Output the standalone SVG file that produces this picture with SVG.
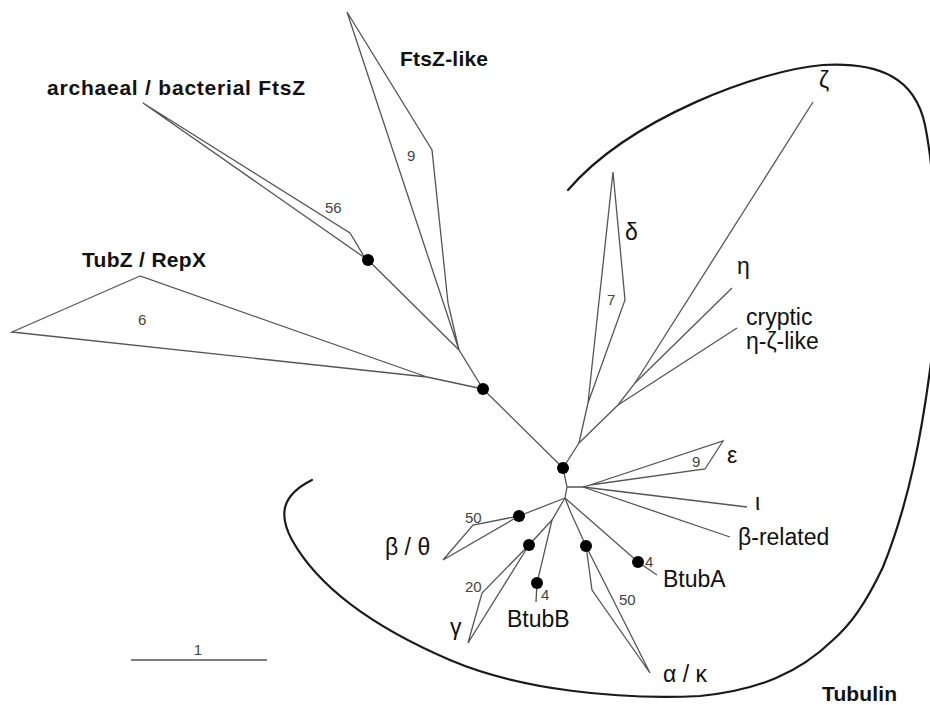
<svg xmlns="http://www.w3.org/2000/svg" width="930" height="705" viewBox="0 0 930 705">
  <style>
    .edge { fill: none; stroke: #555; stroke-width: 1.3; stroke-linejoin: miter; }
    .clade { fill: #fff; stroke: #555; stroke-width: 1.3; stroke-linejoin: miter; }
    .node { fill: #000; }
    .hull { fill: none; stroke: #1a1a1a; stroke-width: 2.2; stroke-linecap: round; }
    .group { font-family: "Liberation Sans", Arial, sans-serif; font-weight: bold; font-size: 21px; fill: #111; }
    .leaf { font-family: "Liberation Sans", Arial, sans-serif; font-size: 23px; fill: #111; }
    .count { font-family: "Liberation Sans", Arial, sans-serif; font-size: 15px; fill: #444; }
  </style>
  <rect width="930" height="705" fill="#fff"/>

  <!-- outlines enclosing the tubulin clade -->
  <g id="tubulin-outline">
    <path class="hull" d="M568,190 C630,118 760,70 823,65 C880,62 915,78 925,125 C938,190 940,300 930,370 C922,430 910,500 883,567 C865,605 850,625 833,640 C800,672 760,690 700,696 C620,700 520,690 450,660 C380,630 320,590 292,540 C278,514 282,495 312,480"/>
  </g>

  <!-- tree branches and collapsed clades -->
  <g id="connectors">
    <!-- prokaryotic side -->
    <polyline class="edge" points="368,260 459,350 483,389"/>
    <polyline class="edge" points="427,377 483,389"/>
    <polyline class="edge" points="483,389 563,468"/>
    <!-- eukaryotic side -->
    <polyline class="edge" points="563,468 579,443 588,403"/>
    <polyline class="edge" points="579,443 618,405 635,383 813,102"/>
    <polyline class="edge" points="635,383 732,288"/>
    <polyline class="edge" points="618,405 737,328"/>
    <polyline class="edge" points="563,468 567,487 565,498"/>
    <polyline class="edge" points="567,487 583,487 590,485"/>
    <polyline class="edge" points="583,487 747,507"/>
    <polyline class="edge" points="583,487 730,537"/>
    <polyline class="edge" points="565,498 638,562 657,575"/>
    <polyline class="edge" points="565,498 571,513 586,546"/>
    <polyline class="edge" points="565,498 519,516"/>
    <polyline class="edge" points="565,498 552,520 529,545"/>
    <polyline class="edge" points="552,520 537,583 536,602"/>
  </g>

  <g id="ftsz">
    <polygon class="clade" points="143,103 350,233 365,258"/>
    <text class="count" x="325" y="213">56</text>
    <text class="group" x="47" y="95" textLength="258">archaeal / bacterial FtsZ</text>
  </g>
  <g id="ftsz-like">
    <polygon class="clade" points="347,12 432,150 448,303 459,350"/>
    <text class="count" x="407" y="161">9</text>
    <text class="group" x="400" y="66" textLength="88">FtsZ-like</text>
  </g>
  <g id="tubz-repx">
    <polygon class="clade" points="140,276 12,332 427,377"/>
    <text class="count" x="138" y="325">6</text>
    <text class="group" x="82" y="267" textLength="124">TubZ / RepX</text>
  </g>
  <g id="delta">
    <polygon class="clade" points="588,403 613,172 625,300"/>
    <text class="count" x="607" y="305">7</text>
    <text class="leaf" x="625" y="240">δ</text>
  </g>
  <g id="zeta">
    <text class="leaf" x="819" y="88">ζ</text>
  </g>
  <g id="eta">
    <text class="leaf" x="737" y="274">η</text>
  </g>
  <g id="cryptic">
    <text class="leaf" x="746" y="325">cryptic</text>
    <text class="leaf" x="746" y="349">η-ζ-like</text>
  </g>
  <g id="epsilon">
    <polygon class="clade" points="590,485 723,441 705,469"/>
    <text class="count" x="692" y="467">9</text>
    <text class="leaf" x="727" y="463">ε</text>
  </g>
  <g id="iota">
    <text class="leaf" x="755" y="510">ι</text>
  </g>
  <g id="beta-related">
    <text class="leaf" x="738" y="545">β-related</text>
  </g>
  <g id="btuba">
    <circle class="node" cx="638" cy="562" r="6"/>
    <text class="count" x="645" y="567">4</text>
    <text class="leaf" x="663" y="587">BtubA</text>
  </g>
  <g id="alpha-kappa">
    <polygon class="clade" points="586,546 592,590 650,673"/>
    <circle class="node" cx="586" cy="546" r="6"/>
    <text class="count" x="619" y="605">50</text>
    <text class="leaf" x="663" y="682">α / κ</text>
  </g>
  <g id="beta-theta">
    <polygon class="clade" points="519,516 473,525 443,560"/>
    <circle class="node" cx="519" cy="516" r="6"/>
    <text class="count" x="465" y="523">50</text>
    <text class="leaf" x="385" y="555">β / θ</text>
  </g>
  <g id="gamma">
    <polygon class="clade" points="529,545 482,593 468,643"/>
    <circle class="node" cx="529" cy="545" r="6"/>
    <text class="count" x="465" y="592">20</text>
    <text class="leaf" x="450" y="635">γ</text>
  </g>
  <g id="btubb">
    <circle class="node" cx="537" cy="583" r="6"/>
    <text class="count" x="541" y="600">4</text>
    <text class="leaf" x="507" y="627">BtubB</text>
  </g>

  <!-- internal supported nodes -->
  <g id="internal-nodes">
    <circle class="node" cx="368" cy="260" r="6"/>
    <circle class="node" cx="483" cy="389" r="6"/>
    <circle class="node" cx="563" cy="468" r="6"/>
  </g>

  <g id="tubulin-label">
    <text class="group" x="822" y="701" textLength="75">Tubulin</text>
  </g>

  <g id="scale-bar">
    <line class="edge" x1="131" y1="660" x2="267" y2="660"/>
    <text class="count" x="198" y="655" text-anchor="middle">1</text>
  </g>
</svg>
